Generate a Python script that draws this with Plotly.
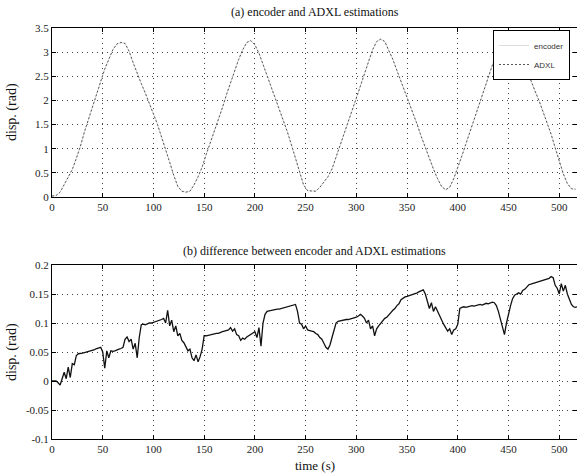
import numpy as np
import plotly.graph_objects as go

# ---- data ----
t_top = list(range(0, 520, 4))
encoder_disp = [
    0.02, 0.03, 0.10, 0.25, 0.40, 0.57, 0.80, 1.05, 1.35, 1.62,
    1.88, 2.12, 2.38, 2.65, 2.85, 3.05, 3.17, 3.20, 3.18, 3.02,
    2.78, 2.55, 2.35, 2.15, 1.95, 1.72, 1.50, 1.25, 1.00, 0.72,
    0.45, 0.22, 0.12, 0.10, 0.12, 0.25, 0.42, 0.62, 0.88, 1.12,
    1.35, 1.58, 1.85, 2.12, 2.38, 2.62, 2.85, 3.05, 3.20, 3.24,
    3.15, 2.98, 2.75, 2.52, 2.28, 2.08, 1.85, 1.60, 1.35, 1.08,
    0.80, 0.50, 0.25, 0.13, 0.12, 0.12, 0.20, 0.30, 0.42, 0.58,
    0.82, 1.05, 1.30, 1.55, 1.80, 2.05, 2.30, 2.55, 2.80, 3.05,
    3.22, 3.27, 3.22, 3.05, 2.85, 2.62, 2.40, 2.18, 1.95, 1.72,
    1.50, 1.25, 1.02, 0.80, 0.58, 0.38, 0.22, 0.15, 0.20, 0.38,
    0.60, 0.85, 1.10, 1.35, 1.62, 1.88, 2.12, 2.35, 2.60, 2.85,
    3.05, 3.18, 3.24, 3.25, 3.20, 3.05, 2.85, 2.62, 2.40, 2.20,
    2.00, 1.78, 1.55, 1.30, 1.02, 0.75, 0.48, 0.28, 0.17, 0.16,
]
adxl_disp = list(encoder_disp)

t_diff = list(range(0, 520, 2))
diff_disp = [
    0.000, 0.000, 0.000, -0.003, -0.007, 0.004, 0.015, 0.004, 0.024, 0.006,
    0.030, 0.028, 0.044, 0.047, 0.047, 0.048, 0.049, 0.050, 0.050, 0.052,
    0.053, 0.054, 0.056, 0.057, 0.058, 0.050, 0.022, 0.052, 0.040, 0.052,
    0.051, 0.052, 0.054, 0.055, 0.056, 0.058, 0.072, 0.076, 0.068, 0.072,
    0.055, 0.065, 0.040, 0.075, 0.097, 0.098, 0.097, 0.099, 0.100, 0.100,
    0.101, 0.103, 0.104, 0.105, 0.106, 0.108, 0.100, 0.122, 0.095, 0.105,
    0.085, 0.095, 0.078, 0.082, 0.070, 0.066, 0.060, 0.052, 0.055, 0.040,
    0.035, 0.045, 0.033, 0.042, 0.055, 0.078, 0.078, 0.079, 0.080, 0.080,
    0.081, 0.082, 0.082, 0.084, 0.085, 0.086, 0.087, 0.088, 0.092, 0.086,
    0.090, 0.080, 0.078, 0.070, 0.074, 0.072, 0.076, 0.078, 0.080, 0.082,
    0.085, 0.075, 0.092, 0.060, 0.100, 0.115, 0.120, 0.121, 0.122, 0.122,
    0.123, 0.124, 0.124, 0.125, 0.126, 0.126, 0.127, 0.128, 0.129, 0.130,
    0.132, 0.120, 0.100, 0.098, 0.090, 0.095, 0.088, 0.087, 0.086, 0.085,
    0.082, 0.080, 0.075, 0.072, 0.065, 0.058, 0.055, 0.062, 0.075, 0.090,
    0.100, 0.103, 0.104, 0.105, 0.105, 0.106, 0.106, 0.107, 0.108, 0.108,
    0.110, 0.112, 0.115, 0.112, 0.108, 0.100, 0.105, 0.090, 0.095, 0.078,
    0.090, 0.095, 0.100, 0.105, 0.108, 0.110, 0.115, 0.118, 0.122, 0.125,
    0.130, 0.133, 0.140, 0.143, 0.145, 0.146, 0.147, 0.148, 0.150, 0.151,
    0.152, 0.154, 0.155, 0.157, 0.150, 0.135, 0.125, 0.135, 0.120, 0.128,
    0.120, 0.112, 0.105, 0.098, 0.092, 0.086, 0.090, 0.080, 0.088, 0.090,
    0.098, 0.125, 0.127, 0.128, 0.127, 0.128, 0.129, 0.130, 0.129, 0.130,
    0.131, 0.132, 0.131, 0.133, 0.134, 0.133, 0.135, 0.136, 0.135, 0.130,
    0.120, 0.105, 0.090, 0.080, 0.100, 0.118, 0.130, 0.142, 0.148, 0.150,
    0.152, 0.150, 0.156, 0.158, 0.162, 0.166, 0.167, 0.168, 0.169, 0.170,
    0.171, 0.172, 0.173, 0.174, 0.175, 0.177, 0.180, 0.178, 0.165, 0.160,
    0.150, 0.168, 0.155, 0.165, 0.150, 0.140, 0.132, 0.128, 0.127, 0.128,
]

x_ticks = [0, 50, 100, 150, 200, 250, 300, 350, 400, 450, 500]
y_ticks_top = [0, 0.5, 1, 1.5, 2, 2.5, 3, 3.5]
y_ticklabels_top = ["0", "0.5", "1", "1.5", "2", "2.5", "3", "3.5"]
y_ticks_bot = [-0.1, -0.05, 0, 0.05, 0.1, 0.15, 0.2]
y_ticklabels_bot = ["-0.1", "-0.05", "0", "0.05", "0.1", "0.15", "0.2"]

title_a = "(a) encoder and ADXL estimations"
title_b = "(b) difference between encoder and ADXL estimations"
ylabel = "disp. (rad)"
xlabel = "time (s)"

W, H = 577, 476
L = 52
serif = "Liberation Serif, Times New Roman, serif"

fig = go.Figure()
fig.add_trace(go.Scatter(x=t_top, y=encoder_disp, mode="lines", name="encoder",
                         line=dict(color="#dcdcdc", width=1), xaxis="x", yaxis="y"))
fig.add_trace(go.Scatter(x=t_top, y=adxl_disp, mode="lines", name="ADXL",
                         line=dict(color="#555555", width=1, dash="2px,2px"), xaxis="x", yaxis="y"))
fig.add_trace(go.Scatter(x=t_diff, y=diff_disp, mode="lines", showlegend=False,
                         line=dict(color="#111111", width=1.3), xaxis="x2", yaxis="y2"))

def pfy(py):
    return 1 - py / H

axis_common = dict(
    showline=True, linecolor="black", linewidth=1, mirror="ticks",
    ticks="inside", ticklen=4, tickcolor="black",
    showgrid=True, gridcolor="#444444", griddash="1px,4px", gridwidth=1,
    zeroline=False, tickfont=dict(family=serif, size=11, color="#222"),
)

fig.update_layout(
    width=W, height=H,
    margin=dict(l=L, r=0, t=0, b=0, autoexpand=False),
    paper_bgcolor="white", plot_bgcolor="white",
    xaxis=dict(domain=[0, 1], range=[0, 517.5], tickvals=x_ticks, anchor="y", **axis_common),
    yaxis=dict(domain=[pfy(197), pfy(28)], range=[0, 3.5], tickvals=y_ticks_top,
               ticktext=y_ticklabels_top, anchor="x", **axis_common),
    xaxis2=dict(domain=[0, 1], range=[0, 517.5], tickvals=x_ticks, anchor="y2", **axis_common),
    yaxis2=dict(domain=[pfy(439), pfy(265)], range=[-0.1, 0.2], tickvals=y_ticks_bot,
                ticktext=y_ticklabels_bot, anchor="x2", **axis_common),
    showlegend=True,
    legend=dict(x=(570 - L) / (W - L), y=pfy(30), xanchor="right", yanchor="top",
                bgcolor="white", bordercolor="black", borderwidth=1,
                font=dict(family="Liberation Sans, Arial, sans-serif", size=8, color="#333"),
                tracegroupgap=0),
    annotations=[
        dict(text=title_a, x=0.5, y=pfy(12), xref="paper", yref="paper", showarrow=False,
             yanchor="middle", font=dict(family=serif, size=12, color="#111")),
        dict(text=title_b, x=0.5, y=pfy(251), xref="paper", yref="paper", showarrow=False,
             yanchor="middle", font=dict(family=serif, size=12, color="#111")),
        dict(text=xlabel, x=0.5, y=pfy(465), xref="paper", yref="paper", showarrow=False,
             yanchor="middle", font=dict(family=serif, size=13, color="#111")),
        dict(text=ylabel, x=-40 / (W - L), y=pfy(112), xref="paper", yref="paper", showarrow=False,
             xanchor="center", yanchor="middle",
             textangle=-90, font=dict(family=serif, size=14, color="#111")),
        dict(text=ylabel, x=-40 / (W - L), y=pfy(352), xref="paper", yref="paper", showarrow=False,
             xanchor="center", yanchor="middle",
             textangle=-90, font=dict(family=serif, size=14, color="#111")),
    ],
)

fig.write_html("out.html", config={"displayModeBar": False})

# remove the default page margin so the figure sits at the window's top-left corner
with open("out.html", "r", encoding="utf-8") as f:
    html = f.read()
html = html.replace("<head>", "<head><style>html,body{margin:0;padding:0;overflow:hidden;}</style>", 1)
with open("out.html", "w", encoding="utf-8") as f:
    f.write(html)
